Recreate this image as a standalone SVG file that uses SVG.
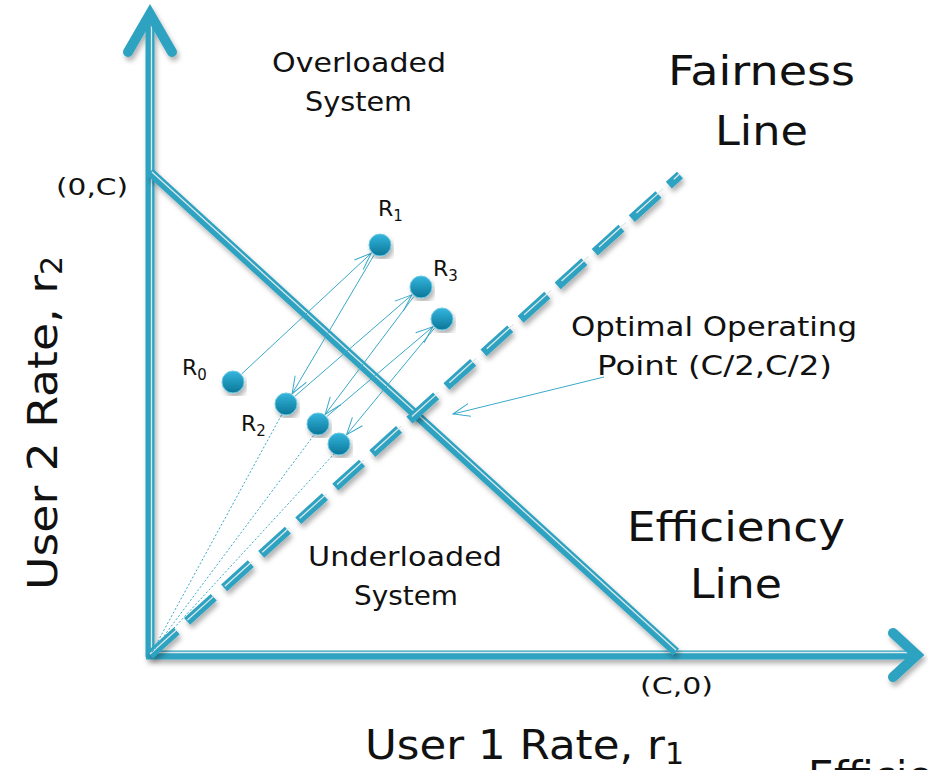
<svg xmlns="http://www.w3.org/2000/svg" width="928" height="770" viewBox="0 0 928 770">
  <style>
    text { font-family: "DejaVu Sans", "Liberation Sans", sans-serif; fill: #111; }
    .lbl { font-size: 27px; }
    .big { font-size: 41px; }
    .pt  { font-size: 23px; }
    .rr  { font-size: 22px; }
    .axis { stroke: #2ea3c1; stroke-width: 9; fill: none; }
    .stripe { stroke: #dfe8eb; stroke-width: 1.3; fill: none; }
    .head { stroke: #2ea3c1; stroke-width: 10; fill: none; stroke-linecap: round; stroke-linejoin: miter; }
    .step { stroke: #3aa9c8; stroke-width: 1; fill: none; marker-end: url(#vee); }
    .ray  { stroke: #3aa9c8; stroke-width: 1; fill: none; stroke-dasharray: 2 2; }
    .dot  { fill: url(#dotFill); stroke: #6cc8e2; stroke-width: 1; }
  </style>
  <defs>
    <filter id="shade" x="-10%" y="-10%" width="120%" height="120%">
      <feDropShadow dx="2" dy="4" stdDeviation="2.5" flood-color="#000" flood-opacity="0.3"/>
    </filter>
    <linearGradient id="dotFill" x1="0" y1="0" x2="0" y2="1">
      <stop offset="0" stop-color="#35b6de"/>
      <stop offset="1" stop-color="#0a7698"/>
    </linearGradient>
    <marker id="vee" markerUnits="userSpaceOnUse" markerWidth="20" markerHeight="16" refX="0" refY="0" viewBox="-18 -8 20 16" orient="auto">
      <path d="M-17,-6.5 L0,0 L-17,6.5" fill="none" stroke="#3aa9c8" stroke-width="1"/>
    </marker>
  </defs>

  <!-- axes, efficiency and fairness lines -->
  <g id="axes" filter="url(#shade)">
    <line class="axis" x1="150" y1="657" x2="150" y2="16"/>
    <line class="stripe" x1="151.5" y1="650" x2="151.5" y2="20"/>
    <polyline class="head" points="128,52 150,14 172,52"/>
    <line class="axis" x1="146" y1="655" x2="916" y2="655"/>
    <line class="stripe" x1="156" y1="652.5" x2="914" y2="652.5"/>
    <polyline class="head" points="893,633 917,655 893,677"/>
  </g>

  <g id="efficiency-line" filter="url(#shade)">
    <line class="axis" x1="150" y1="172" x2="676" y2="652"/>
    <line class="stripe" x1="152" y1="172" x2="676" y2="650"/>
  </g>

  <g id="fairness-line" filter="url(#shade)">
    <line class="axis" x1="150" y1="655" x2="680" y2="175" stroke-dasharray="36 14"/>
    <line class="stripe" x1="150" y1="654" x2="679.5" y2="174" stroke-dasharray="36.4 14.1"/>
  </g>

  <!-- connectors -->
  <g id="connectors">
    <line class="ray" x1="152" y1="652" x2="282" y2="414"/>
    <line class="ray" x1="152" y1="652" x2="314" y2="435"/>
    <line class="ray" x1="152" y1="652" x2="334" y2="454"/>
    <line class="step" x1="241.8" y1="373.8" x2="371.2" y2="253.2"/>
    <line class="step" x1="373.9" y1="255.3" x2="292.1" y2="393.7"/>
    <line class="step" x1="295.1" y1="396.1" x2="411.9" y2="294.9"/>
    <line class="step" x1="413.8" y1="296.6" x2="325.2" y2="414.4"/>
    <line class="step" x1="327.2" y1="416.2" x2="432.8" y2="326.8"/>
    <line class="step" x1="434.4" y1="328.3" x2="346.6" y2="434.7"/>
    <line class="step" x1="604" y1="377" x2="453" y2="414"/>
  </g>

  <!-- operating points -->
  <g id="r0" filter="url(#shade)"><circle class="dot" cx="233" cy="382" r="11"/></g>
  <g id="r1" filter="url(#shade)"><circle class="dot" cx="380" cy="245" r="11"/></g>
  <g id="r2" filter="url(#shade)"><circle class="dot" cx="286" cy="404" r="11"/></g>
  <g id="r3" filter="url(#shade)"><circle class="dot" cx="421" cy="287" r="11"/></g>
  <g id="r4" filter="url(#shade)"><circle class="dot" cx="318" cy="424" r="11"/></g>
  <g id="r5" filter="url(#shade)"><circle class="dot" cx="442" cy="319" r="11"/></g>
  <g id="r6" filter="url(#shade)"><circle class="dot" cx="339" cy="444" r="11"/></g>

  <!-- labels -->
  <g id="labels">
    <text class="lbl" x="272" y="72" textLength="174" lengthAdjust="spacingAndGlyphs">Overloaded</text>
    <text class="lbl" x="305" y="111" textLength="107" lengthAdjust="spacingAndGlyphs">System</text>

    <text class="big" x="668" y="85" textLength="187" lengthAdjust="spacingAndGlyphs">Fairness</text>
    <text class="big" x="715" y="145" textLength="93" lengthAdjust="spacingAndGlyphs">Line</text>

    <text class="pt" x="56" y="195" textLength="72" lengthAdjust="spacingAndGlyphs">(0,C)</text>

    <text class="rr" x="378" y="216">R<tspan font-size="15" dy="5">1</tspan></text>
    <text class="rr" x="433" y="276">R<tspan font-size="15" dy="5">3</tspan></text>
    <text class="rr" x="182" y="375">R<tspan font-size="15" dy="5">0</tspan></text>
    <text class="rr" x="241" y="431">R<tspan font-size="15" dy="5">2</tspan></text>

    <text class="lbl" x="571" y="336" textLength="286" lengthAdjust="spacingAndGlyphs">Optimal Operating</text>
    <text class="lbl" x="597" y="375" textLength="235" lengthAdjust="spacingAndGlyphs">Point (C/2,C/2)</text>

    <text class="big" x="627" y="541" textLength="218" lengthAdjust="spacingAndGlyphs">Efficiency</text>
    <text class="big" x="690" y="598" textLength="92" lengthAdjust="spacingAndGlyphs">Line</text>

    <text class="lbl" x="308" y="566" textLength="194" lengthAdjust="spacingAndGlyphs">Underloaded</text>
    <text class="lbl" x="354" y="605" textLength="104" lengthAdjust="spacingAndGlyphs">System</text>

    <text class="pt" x="640" y="694" textLength="73" lengthAdjust="spacingAndGlyphs">(C,0)</text>

    <text class="big" x="365" y="759"><tspan textLength="300" lengthAdjust="spacingAndGlyphs">User 1 Rate, r</tspan><tspan font-size="30" dy="5">1</tspan></text>
    <text class="big" transform="translate(57,590) rotate(-90)"><tspan textLength="315" lengthAdjust="spacingAndGlyphs">User 2 Rate, r</tspan><tspan font-size="30" dy="5">2</tspan></text>

    <text class="big" x="808" y="790">Efficiency</text>
  </g>
</svg>
